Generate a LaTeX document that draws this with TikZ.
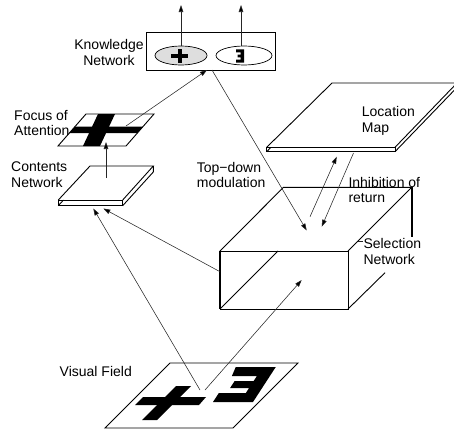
\documentclass[tikz,border=0pt]{standalone}
\usepackage{fontspec}
\setmainfont{Liberation Sans}
\usetikzlibrary{arrows.meta,shapes.geometric}
\begin{document}
\begin{tikzpicture}[x=1pt,y=-1pt,
  lbl/.style={font=\fontsize{14}{15.5}\selectfont, inner sep=0pt, align=left, anchor=north west},
  conn/.style={line width=0.55pt, draw=black!85, -{Triangle[length=7pt,width=4.6pt,fill=black]}},
  thinline/.style={line width=0.55pt, draw=black!85},
  plate/.style={line width=0.9pt, line join=miter},
  boldedge/.style={line width=1.6pt},
  oval/.style={ellipse, draw, line width=0.7pt, inner sep=0pt, minimum height=19pt},
]
\useasboundingbox (0,0) rectangle (454,431);

% ---------------- Knowledge network ----------------
\node[draw, line width=0.9pt, minimum width=129pt, minimum height=38pt, inner sep=0pt] (kn) at (210.5,51) {};
\node[oval, fill=black!13, minimum width=52pt] (kplus) at (181,55.5) {};
\node[oval, minimum width=56pt] (kthree) at (244,55.5) {};
% plus glyph
\draw[line width=4pt] (171,56) -- (188,56) (179.5,49) -- (179.5,63);
% block three glyph
\fill (236,49.3) -- (244,49.3) -- (244,62.7) -- (236,62.7) -- (236,59.7) -- (240.5,59.7)
  -- (240.5,57.3) -- (237.5,57.3) -- (237.5,54.7) -- (240.5,54.7) -- (240.5,52.3) -- (236,52.3) -- cycle;
\coordinate (outA) at (181,5);
\coordinate (outB) at (241,5);
\draw[conn] (kplus.north) -- (outA);
\draw[conn] (kthree.north -| outB) -- (outB);
\node[lbl, align=center, anchor=north] (knlbl) at (109,39.5) {Knowledge\\Network};

% ---------------- Focus of attention ----------------
\coordinate (faTL) at (86,114);
\coordinate (faTR) at (154,114);
\coordinate (faBR) at (126,146);
\coordinate (faBL) at (58,146);
\fill (75.1,126.5) -- (143.1,126.5) -- (137.4,133) -- (69.4,133) -- cycle;
\fill (98,114) -- (115,114) -- (100,146) -- (83,146) -- cycle;
\draw[plate] (faTL) -- (faTR) -- (faBR) -- (faBL) -- cycle;
\node[lbl] (falbl) at (14,110) {Focus of\\Attention};

% ---------------- Contents network ----------------
\coordinate (cnA) at (58.3,200);
\coordinate (cnB) at (122.7,200);
\coordinate (cnC) at (122.7,205.7);
\coordinate (cnD) at (58.3,205.7);
\coordinate (cnE) at (90,166);
\coordinate (cnF) at (153.3,166);
\coordinate (cnG) at (153.3,172);
\draw[plate] (cnA) -- (cnB) -- (cnC) -- (cnD) -- cycle;
\draw[plate] (cnA) -- (cnE) -- (cnF) -- (cnB);
\draw[plate] (cnF) -- (cnG) -- (cnC);
\draw[plate] (cnD) -- (63.5,200);
\node[lbl] (cnlbl) at (11,162) {Contents\\Network};

% ---------------- Location map ----------------
\coordinate (lmA) at (266.7,147.3);
\coordinate (lmB) at (395,147.3);
\coordinate (lmC) at (395,151.7);
\coordinate (lmD) at (266.7,151.7);
\coordinate (lmE) at (332,83);
\coordinate (lmF) at (457,83);
\coordinate (lmG) at (457,87.4);
\draw[plate] (lmA) -- (lmB) -- (lmC) -- (lmD) -- cycle;
\draw[plate] (lmA) -- (lmE) -- (lmF) -- (lmB);
\draw[plate] (lmC) -- (lmG);
\draw[plate] (lmD) -- (271,147.3);
\node[lbl] (lmlbl) at (361.7,106.5) {Location\\Map};

% ---------------- Selection network ----------------
\coordinate (sFTL) at (220,251);
\coordinate (sFTR) at (348,251);
\coordinate (sFBR) at (348,309);
\coordinate (sFBL) at (220,309);
\coordinate (sBTL) at (283.5,187.3);
\coordinate (sBTR) at (411.7,187.3);
\draw[plate] (sFBL) -- (sFBR) -- (sFTR) -- (sFTL);
\draw[plate] (sFTL) -- (sBTL) -- (sBTR) -- (sFTR);
\draw[boldedge] (sFTL) -- (sFBL);
\draw[boldedge] (sBTR) -- (411.7,236.7);
\draw[plate] (sFBR) -- (385,272.7);
\draw[plate] (sFBL) -- (278,251);
\node[lbl] (snlbl) at (363.3,238.5) {Selection\\Network};
\coordinate (snlead) at (357.6,241.7);
\draw[thinline, line width=0.8pt] (snlead) -- (snlead -| snlbl.west);
\node[lbl] (iorlbl) at (348.3,176.7) {Inhibition of\\return};
\node[lbl] (tdlbl) at (196.7,162) {Top−down\\modulation};

% ---------------- Visual field ----------------
\coordinate (vfTL) at (170,363);
\coordinate (vfTR) at (298,363);
\coordinate (vfBR) at (233,428);
\coordinate (vfBL) at (105,428);
\draw[plate] (vfTL) -- (vfTR) -- (vfBR) -- (vfBL) -- cycle;
% slanted plus
\fill (143,397) -- (206,397) -- (199,405) -- (135,405) -- cycle;
\fill (176,386) -- (191,386) -- (157,420) -- (142,420) -- cycle;
% slanted block three
\fill (235.75,367) -- (275.75,367) -- (253,402) -- (213,402) -- (218.85,393) -- (245.85,393)
  -- (249.1,388) -- (230.1,388) -- (234.65,381) -- (253.65,381) -- (256.9,376) -- (231.9,376) -- cycle;
\node[lbl] (vflbl) at (59.5,366) {Visual Field};

% ---------------- Connections ----------------
\coordinate (faOut) at (126,126);
\coordinate (knIn) at (207,70);
\coordinate (knOut) at (212,70);
\coordinate (snIn1) at (306.7,230.5);
\coordinate (cnOut) at (106,178);
\coordinate (faIn) at (106,142);
\coordinate (cnIn1) at (93.3,208.5);
\coordinate (cnIn2) at (103.3,208.5);
\coordinate (vfOut1) at (200,390);
\coordinate (vfOut2) at (205,390);
\coordinate (snOut) at (220,271.7);
\coordinate (snIn3) at (301.7,280);
\coordinate (snUp) at (310,216.7);
\coordinate (lmIn) at (336.7,156.7);
\coordinate (lmOut) at (353.5,153);
\coordinate (snIn2) at (321.7,226.7);

\draw[conn] (faOut) -- (knIn);
\draw[conn] (knOut) -- (snIn1);
\draw[conn] (cnOut) -- (faIn);
\draw[conn] (vfOut1) -- (cnIn1);
\draw[conn] (snOut) -- (cnIn2);
\draw[conn] (vfOut2) -- (snIn3);
\draw[conn] (snUp) -- (lmIn);
\draw[conn] (lmOut) -- (snIn2);
\end{tikzpicture}
\end{document}
